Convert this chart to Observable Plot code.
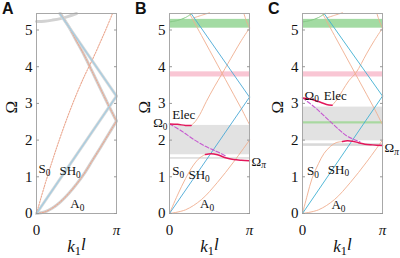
<!DOCTYPE html>
<html><head><meta charset="utf-8">
<script src="https://cdn.jsdelivr.net/npm/d3@7"></script>
<script src="https://cdn.jsdelivr.net/npm/@observablehq/plot@0.6"></script>
<style>
body{margin:0;background:#fff;}
#wrap{position:relative;width:400px;height:258px;overflow:hidden;background:#fff;}
.panel{position:absolute;top:0;}
.letter{position:absolute;top:1px;font:bold 16px "Liberation Sans",Arial,sans-serif;color:#111;line-height:16px;}
</style></head>
<body><div id="wrap"></div>
<script>
// ---- axes (k in units of pi) ----
const kDomain = [0, 1];
const wDomain = [0, 5.45];
const wTicks = [0, 1, 2, 3, 4, 5];
const kTicks = [0, 1];
const kTickLabels = ["0", "π"];
const panelLetters = ["A", "B", "C"];

// ---- Panel A : [k/π, Ω] ----
const A_arc  = [[0,5.23],[0.1,5.24],[0.2,5.27],[0.3,5.31],[0.4,5.37],[0.5,5.45]];
const A_S0   = [[0,0],[0.1,0.75],[0.2,1.45],[0.3,2.1],[0.4,2.7],[0.5,3.25],[0.6,3.75],[0.7,4.2],[0.8,4.68],[0.88,5.08],[0.95,5.45]];
const A_SH0  = [[0,0],[1,3.2]];
const A_SH0f = [[1,3.2],[0.29,5.45]];
const A_A0   = [[0,0],[0.1,0.04],[0.2,0.15],[0.3,0.32],[0.4,0.54],[0.5,0.8],[0.6,1.1],[0.7,1.45],[0.8,1.8],[0.9,2.16],[1,2.52]];
const A_A0f  = [[1,2.52],[0.9,2.95],[0.8,3.4],[0.7,3.85],[0.6,4.3],[0.5,4.7],[0.4,5.1],[0.3,5.45]];

// ---- Panel B ----
const B_SH0   = [[0,0],[1,3.17]];
const B_SH0f  = [[1,3.17],[0.27,5.45]];
const B_A0    = [[0,0],[0.2,0.1],[0.4,0.38],[0.6,0.85],[0.8,1.4],[1,2.0]];
const B_A0f   = [[1,2.42],[0.9,2.85],[0.8,3.25],[0.7,3.65],[0.6,4.05],[0.5,4.45],[0.4,4.85],[0.3,5.25],[0.25,5.45]];
const B_S0lo  = [[0,0],[0.1,0.5],[0.2,0.95],[0.3,1.32],[0.38,1.52],[0.45,1.61]];
const B_ElecLo= [[0.45,1.61],[0.52,1.63],[0.6,1.6],[0.7,1.52],[0.8,1.47],[0.9,1.45],[1,1.44]];
const B_ElecUp= [[0,2.44],[0.1,2.43],[0.2,2.4],[0.27,2.4]];
const B_S0up  = [[0.27,2.4],[0.32,2.5],[0.38,2.7],[0.46,3.05],[0.56,3.45],[0.66,3.82],[0.8,4.35],[0.9,4.72],[1,5.05]];
const B_S0f   = [[1,5.05],[0.96,5.25],[0.93,5.45]];
const B_Dash  = [[0,2.44],[0.15,2.25],[0.3,2.02],[0.45,1.83],[0.59,1.69],[0.7,1.57]];
const B_topG  = [[0,5.22],[0.1,5.26],[0.2,5.34],[0.28,5.45]];
const B_topP  = [[0.3,5.33],[0.4,5.4],[0.5,5.47]];
const B_green = [5.05, 5.29];
const B_pink  = [3.72, 3.86];
const B_gray  = [1.6, 2.4];
const B_gray2 = [1.48, 1.52];

// ---- Panel C ----
const C_SH0   = [[0,0],[1,3.2]];
const C_SH0f  = [[1,3.2],[0.27,5.45]];
const C_A0    = [[0,0],[0.2,0.1],[0.4,0.38],[0.6,0.85],[0.8,1.4],[1,2.0]];
const C_A0f   = [[1,2.42],[0.9,2.85],[0.8,3.25],[0.7,3.65],[0.6,4.05],[0.5,4.45],[0.4,4.85],[0.3,5.25],[0.25,5.45]];
const C_S0lo  = [[0,0],[0.06,0.5],[0.12,0.96],[0.2,1.36],[0.27,1.64],[0.35,1.83],[0.42,1.93],[0.5,1.96]];
const C_ElecLo= [[0.5,1.96],[0.56,1.98],[0.62,1.97],[0.7,1.93],[0.78,1.89],[0.88,1.87],[1,1.85]];
const C_ElecUp= [[0,3.15],[0.1,3.12],[0.2,3.05],[0.3,2.97],[0.37,2.95]];
const C_S0up  = [[0.37,2.95],[0.43,3.1],[0.5,3.35],[0.58,3.62],[0.67,3.84],[0.8,4.35],[0.9,4.72],[1,5.05]];
const C_S0f   = [[1,5.05],[0.96,5.25],[0.93,5.45]];
const C_Dash  = [[0,3.15],[0.15,2.9],[0.3,2.6],[0.45,2.3],[0.55,2.12],[0.65,2.01],[0.72,1.95]];
const C_topG  = [[0,5.22],[0.1,5.26],[0.2,5.34],[0.28,5.45]];
const C_topP  = [[0.3,5.33],[0.4,5.4],[0.5,5.47]];
const C_green = [5.05, 5.29];
const C_pink  = [3.72, 3.86];
const C_gray  = [1.98, 2.9];
const C_gline = [2.44, 2.5];
const C_gray2 = [1.83, 1.9];

// ---- text labels [text, k, Ω, anchor] ----
const A_labels = [["S_0",0.0,1.22,"start"],["SH_0",0.42,1.16,"middle"],["A_0",0.51,0.26,"middle"]];
const B_labels = [["S_0",0.01,1.17,"start"],["SH_0",0.37,1.06,"middle"],["A_0",0.47,0.25,"middle"],
                  ["Elec",0.01,2.68,"start"],["Ω_0",0,2.47,"end"],["Ω_π",1,1.42,"start"]];
const C_labels = [["S_0",0.03,1.17,"start"],["SH_0",0.45,1.2,"middle"],["A_0",0.45,0.24,"middle"],
                  ["Elec",0.24,3.2,"start"],["Ω_0",0,3.22,"start"],["Ω_π",1,1.78,"start"]];

// ---- styles ----
const PINK = "#efae8e", BLUE = "#4aa8d6", RED = "#e3175b", DASH = "#c65ad0";
const SERIF = '"Liberation Serif","Times New Roman",serif';

const rows = p => p.map(([k, w]) => ({k, w}));
const ln = (p, o) => Plot.line(rows(p), {x: "k", y: "w", curve: "catmull-rom", ...o});
const band = (b, fill) => Plot.rect([b], {x1: () => kDomain[0], x2: () => kDomain[1], y1: d => d[0], y2: d => d[1], fill});

function labelMarks(labels) {
  const out = [];
  for (const anchor of ["start", "middle", "end"]) {
    const data = labels.filter(d => d[3] === anchor);
    if (!data.length) continue;
    out.push(Plot.text(data, {x: d => d[1], y: d => d[2], text: d => d[0], textAnchor: anchor,
      dx: anchor === "start" ? 2 : anchor === "end" ? -2 : 0, fontSize: 13, fontFamily: SERIF, fill: "#111"}));
  }
  return out;
}

function makePanel(bandMarks, lineMarks, labels) {
  return Plot.plot({
    width: 133, height: 258, marginLeft: 36, marginRight: 17, marginTop: 13, marginBottom: 45,
    x: {domain: kDomain}, y: {domain: wDomain},
    style: {overflow: "visible", background: "transparent", fontFamily: SERIF, color: "#111"},
    marks: [
      ...bandMarks,
      ...lineMarks,
      Plot.frame({stroke: "#a8a8a8"}),
      Plot.axisY({ticks: wTicks, anchor: "left", tickSize: -3, tickPadding: 7, fontSize: 15, fontFamily: SERIF,
        label: null, stroke: "#999", tickFormat: d => String(d)}),
      Plot.axisY({ticks: wTicks, anchor: "right", tickSize: -3, tickFormat: () => "", label: null, stroke: "#999"}),
      Plot.axisX({ticks: kTicks, anchor: "bottom", tickSize: 0, tickPadding: 11, fontSize: 15, fontFamily: SERIF, label: null,
        tickFormat: d => kTickLabels[kTicks.indexOf(d)]}),
      Plot.text(["Ω"], {frameAnchor: "left", dx: -25, rotate: -90, fontSize: 17, fontFamily: SERIF, fill: "#111"}),
      Plot.text(["k_1l"], {frameAnchor: "bottom", dy: 38, fontSize: 17, fontFamily: SERIF, fill: "#111"}),
      ...labelMarks(labels)
    ]
  });
}

function subscripts(svg) {
  svg.querySelectorAll("text").forEach(t => {
    const s = t.textContent;
    if (s === "π") t.setAttribute("font-style", "italic");
    if (!s.includes("_")) return;
    const NS = "http://www.w3.org/2000/svg";
    const [base, rest] = s.split("_");
    t.textContent = "";
    const a = document.createElementNS(NS, "tspan"); a.textContent = base;
    const b = document.createElementNS(NS, "tspan"); b.textContent = rest[0];
    b.setAttribute("font-size", "0.72em"); b.setAttribute("dy", "0.3em");
    if (base === "k") a.setAttribute("font-style", "italic");
    if (rest[0] === "π") b.setAttribute("font-style", "italic");
    t.appendChild(a); t.appendChild(b);
    if (rest.length > 1) {
      const c = document.createElementNS(NS, "tspan"); c.textContent = rest.slice(1);
      c.setAttribute("dy", "-0.3em"); c.setAttribute("font-style", "italic");
      t.appendChild(c);
    }
  });
}

const GRAYU = {stroke: "#d2d2d2", strokeWidth: 3};
const pinkA = {stroke: "#eba890", strokeWidth: 1.1, strokeDasharray: "1.5,1.3"};
const blueA = {stroke: "#a9cde0", strokeWidth: 1.4};
const thinP = {stroke: PINK, strokeWidth: 0.9};
const thinB = {stroke: BLUE, strokeWidth: 0.9, curve: "linear"};
const redS = {stroke: RED, strokeWidth: 1.5};
const dashS = {stroke: DASH, strokeWidth: 1.1, strokeDasharray: "4,2"};

const panelA = makePanel([], [
  ln(A_arc, GRAYU), ln(A_A0, GRAYU), ln(A_A0f, GRAYU), ln(A_SH0, {...GRAYU, stroke: "#dadada", curve: "linear"}), ln(A_SH0f, {...GRAYU, stroke: "#dadada", curve: "linear"}),
  ln(A_S0, pinkA), ln(A_A0, pinkA), ln(A_A0f, pinkA),
  ln(A_SH0, {...blueA, curve: "linear"}), ln(A_SH0f, {...blueA, curve: "linear"})
], A_labels);

const panelB = makePanel([
  band(B_green, "#a3dba3"), band(B_pink, "#f9c6d4"), band(B_gray, "#e2e2e2"), band(B_gray2, "#d9d9d9")
], [
  ln(B_A0, thinP), ln(B_A0f, thinP), ln(B_S0lo, thinP), ln(B_S0up, thinP), ln(B_S0f, thinP), ln(B_topP, thinP),
  ln(B_topG, {stroke: "#86c986", strokeWidth: 1}),
  ln(B_SH0, thinB), ln(B_SH0f, thinB),
  ln(B_Dash, dashS), ln(B_ElecUp, redS), ln(B_ElecLo, redS)
], B_labels);

const panelC = makePanel([
  band(C_green, "#a3dba3"), band(C_pink, "#f9c6d4"), band(C_gray, "#e2e2e2"), band(C_gline, "#a8d8a0"), band(C_gray2, "#d9d9d9")
], [
  ln(C_A0, thinP), ln(C_A0f, thinP), ln(C_S0lo, thinP), ln(C_S0up, thinP), ln(C_S0f, thinP), ln(C_topP, thinP),
  ln(C_topG, {stroke: "#86c986", strokeWidth: 1}),
  ln(C_SH0, {...thinB, stroke: "#3fb0d2"}), ln(C_SH0f, {...thinB, stroke: "#3fb0d2"}),
  ln(C_Dash, dashS), ln(C_ElecUp, redS), ln(C_ElecLo, redS)
], C_labels);

const wrap = document.getElementById("wrap");
[panelA, panelB, panelC].forEach((svg, i) => {
  subscripts(svg);
  const d = document.createElement("div");
  d.className = "panel"; d.style.left = (i * 133) + "px";
  d.appendChild(svg); wrap.appendChild(d);
  const L = document.createElement("div");
  L.className = "letter"; L.style.left = (i * 133 + 2) + "px"; L.textContent = panelLetters[i];
  wrap.appendChild(L);
});
</script></body></html>
